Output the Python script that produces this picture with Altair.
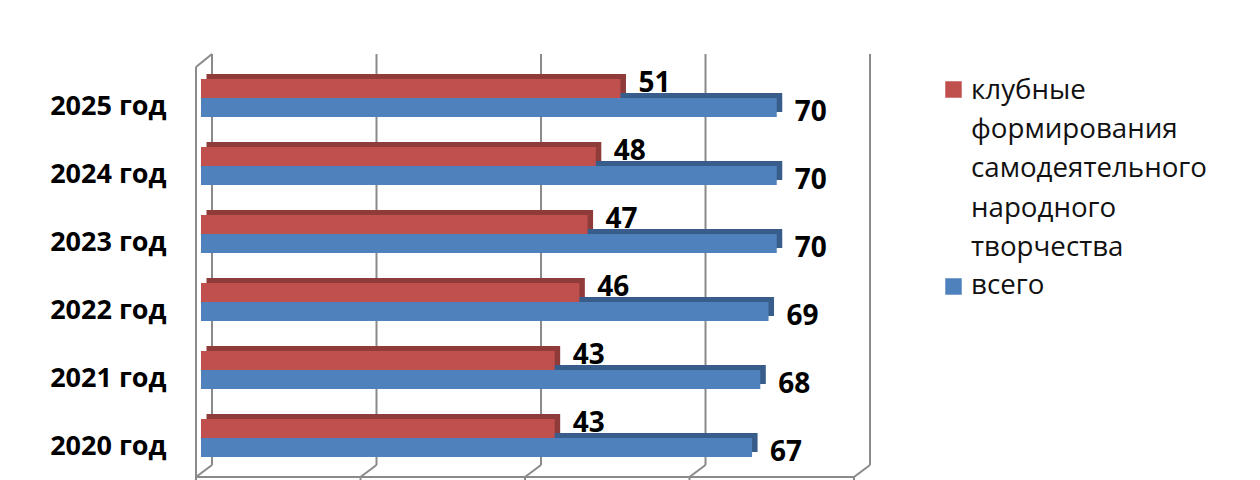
import altair as alt
import pandas as pd

years = ["2025 год", "2024 год", "2023 год", "2022 год", "2021 год", "2020 год"]
club = [51, 48, 47, 46, 43, 43]
total = [70, 70, 70, 69, 68, 67]
series_names = ["клубные формирования самодеятельного народного творчества", "всего"]
club_lines = ["клубные", "формирования", "самодеятельного", "народного", "творчества"]
total_lines = ["всего"]
ticks = [0, 20, 40, 60, 80]
colors = ["#C0504D", "#4F81BD"]
dark = ["#8E3B39", "#385D8A"]
GREY = "#8A8A8A"
FONT = "Open Sans"

rows = []
for y, c, t in zip(years, club, total):
    rows.append({"year": y, "s": 0, "v": c})
    rows.append({"year": y, "s": 1, "v": t})
df = pd.DataFrame(rows)

W, H = 658, 408
xs = alt.Scale(domain=[0, 80], nice=False)
ys = alt.Scale(domain=years, paddingInner=30 / 68, paddingOuter=15 / 68)
X = alt.X("v:Q", scale=xs, axis=None)
Y = alt.Y("year:N", scale=ys, title=None,
          axis=alt.Axis(domain=False, ticks=False, labelPadding=35, labelOffset=9,
                        labelFont=FONT, labelFontWeight="bold", labelFontSize=27,
                        labelColor="#000000", labelLimit=200))
YO = alt.YOffset("s:N", scale=alt.Scale(domain=[0, 1], range=[0, 38], paddingInner=0, paddingOuter=0))
YO_back = alt.YOffset("s:N", scale=alt.Scale(domain=[0, 1], range=[-5, 33], paddingInner=0, paddingOuter=0))

back = 11 / 8.225
front = -5 / 8.225
grid = pd.DataFrame({"t": ticks})
grid["b"] = grid["t"] + back
grid["f"] = grid["t"] + front
grid_x = alt.Chart(grid)
rule = dict(color=GREY, strokeWidth=2)

back_lines = grid_x.mark_rule(**rule).encode(
    x=alt.X("b:Q", scale=xs, axis=None), y=alt.value(-10), y2=alt.value(401))
floor = grid_x.mark_rule(**rule).encode(
    x=alt.X("b:Q", scale=xs, axis=None), x2="f:Q", y=alt.value(401), y2=alt.value(413))
ticks_down = grid_x.mark_rule(**rule).encode(
    x=alt.X("f:Q", scale=xs, axis=None), y=alt.value(413), y2=alt.value(420))

edge = pd.DataFrame({"a": [0 + front], "b": [80 + front], "c": [0 + back], "d": [80 + back]})
edge_x = alt.Chart(edge)
left_wall = edge_x.mark_rule(**rule).encode(
    x=alt.X("a:Q", scale=xs, axis=None), y=alt.value(3), y2=alt.value(413))
top_diag = edge_x.mark_rule(**rule).encode(
    x=alt.X("a:Q", scale=xs, axis=None), x2="c:Q", y=alt.value(3), y2=alt.value(-10))
floor_front = edge_x.mark_rule(**rule).encode(
    x=alt.X("a:Q", scale=xs, axis=None), x2="b:Q", y=alt.value(413))

def bars(s):
    d = df[df.s == s]
    base = alt.Chart(d)
    shade = base.mark_bar(color=dark[s], xOffset=5.5, x2Offset=5.5).encode(
        x=X, x2=alt.value(0), y=Y, yOffset=YO_back)
    face = base.mark_bar(color=colors[s]).encode(x=X, x2=alt.value(0), y=Y, yOffset=YO)
    return [shade, face]

def labels(s, dy):
    d = df[df.s == s]
    return alt.Chart(d).mark_text(align="left", baseline="middle", dx=18, dy=dy, font=FONT,
                                  fontWeight="bold", fontSize=28, color="#000000").encode(
        x=X, y=Y, yOffset=YO, text="v:Q")

def legend_item(s, lines, sy, ty):
    item = alt.Chart(pd.DataFrame({"name": [series_names[s]]}))
    sym = item.mark_square(size=272, color=colors[s], opacity=1, filled=True).encode(
        x=alt.value(953.5 - 201), y=alt.value(sy - 64))
    txt = item.mark_text(text=lines, align="left", baseline="alphabetic", lineHeight=39.2,
                         font=FONT, fontSize=27.7, color="#111111").encode(
        x=alt.value(971 - 201), y=alt.value(ty - 64))
    return [sym, txt]

chart = alt.layer(
    back_lines, floor, ticks_down, left_wall, top_diag, floor_front,
    *bars(1), *bars(0), labels(0, 5), labels(1, -4),
    *legend_item(0, club_lines, 89.5, 99), *legend_item(1, total_lines, 286.5, 294),
).resolve_scale(yOffset="independent").properties(
    width=W, height=H, autosize="none", background="#FFFFFF",
    padding={"left": 193, "top": 56, "right": 393, "bottom": 8},
).configure_view(stroke=None)

chart.save("out.html", embed_options={"renderer": "svg", "actions": False})
